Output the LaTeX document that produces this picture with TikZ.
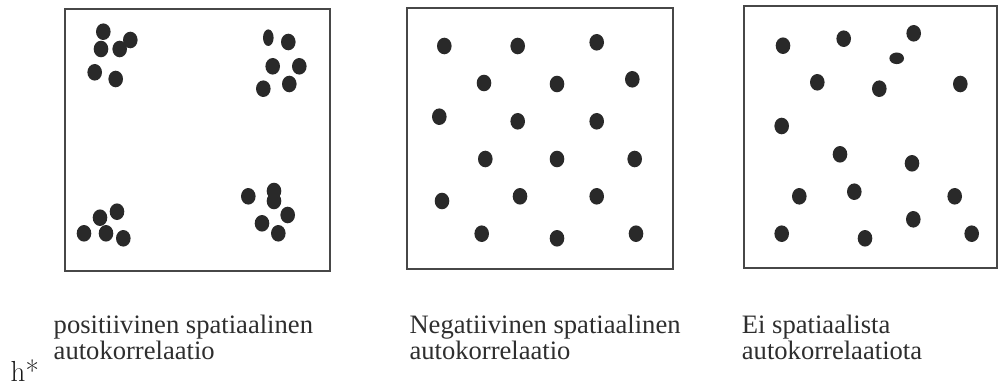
\documentclass[tikz,border=0pt]{standalone}
\usepackage{fontspec}
\setmainfont{Liberation Serif}
\newfontfamily\lmfont{Latin Modern Roman}
\begin{document}
\begin{tikzpicture}[x=1pt,y=-1pt,
  panel/.style={draw=black!72,line width=1.5pt},
  blob/.style={fill=black!84},
  caption/.style={anchor=base west,inner sep=0pt,text=black!82,
    font=\fontsize{26.6}{26}\selectfont}]
\useasboundingbox (0,0) rectangle (998,385);

% ellipse dot of default size
\newcommand{\spot}[2]{\fill[blob] (#1,#2) ellipse[x radius=7.3,y radius=8.3];}

% panels
\draw[panel] (65,9) rectangle (330,271);
\draw[panel] (407,8) rectangle (673,269);
\draw[panel] (744,6) rectangle (997,268);

% clustered points
\spot{103.3}{31.7} \spot{130.3}{40} \spot{101}{49} \spot{119.7}{49}
\spot{94.7}{72.3} \spot{115.7}{79}
\fill[blob] (268.3,37.7) ellipse[x radius=5.3,y radius=8.3];
\spot{288.3}{42} \spot{272.7}{66.3} \spot{299.3}{66.3}
\spot{263.3}{88.7} \spot{289.3}{84}
\spot{117}{211.7} \spot{100}{217.7} \spot{84}{233.3} \spot{106}{233.3}
\spot{123.3}{238.3}
\spot{248.3}{196.3} \spot{274}{191} \spot{274}{201} \spot{287.7}{215}
\spot{262}{223.3} \spot{278.3}{233.3}

% regularly spaced points
\spot{444.3}{46} \spot{517.7}{46} \spot{596.7}{42.3}
\spot{484}{83} \spot{557}{84} \spot{632.3}{79.3}
\spot{439.3}{116.7} \spot{517.7}{121.3} \spot{596.7}{121.3}
\spot{485.3}{159} \spot{557}{159} \spot{634.7}{159}
\spot{442}{201} \spot{520}{196.3} \spot{596.7}{196.3}
\spot{481.7}{233.7} \spot{557}{238.3} \spot{636}{233.7}

% random points
\spot{783}{45.7} \spot{843.7}{38.7} \spot{913.7}{33.3}
\fill[blob] (896.7,58.3) ellipse[x radius=7.3,y radius=5.8];
\spot{817.3}{82.3} \spot{879.3}{88.7} \spot{960.3}{84}
\spot{781.7}{126} \spot{840}{154.3} \spot{912}{163.3}
\spot{799.3}{196.3} \spot{854.3}{191.7} \spot{954.7}{196.3}
\spot{913.3}{219.3}
\spot{781.7}{233.7} \spot{865}{238.3} \spot{971.7}{233.7}

% captions
\node[caption] (c1a) at (53.5,333.3) {positiivinen spatiaalinen};
\node[caption] (c1b) at (53.5,359.3) {autokorrelaatio};
\node[caption] (c2a) at (409.3,333.3) {Negatiivinen spatiaalinen};
\node[caption] (c2b) at (409.3,359.3) {autokorrelaatio};
\node[caption] (c3a) at (741.7,333.3) {Ei spatiaalista};
\node[caption] (c3b) at (741.7,359.3) {autokorrelaatiota};
\node[anchor=base west,inner sep=0pt,text=black!90,
  font=\lmfont\fontsize{29}{29}\selectfont] (hs) at (10.5,381) {h*};
\end{tikzpicture}
\end{document}
